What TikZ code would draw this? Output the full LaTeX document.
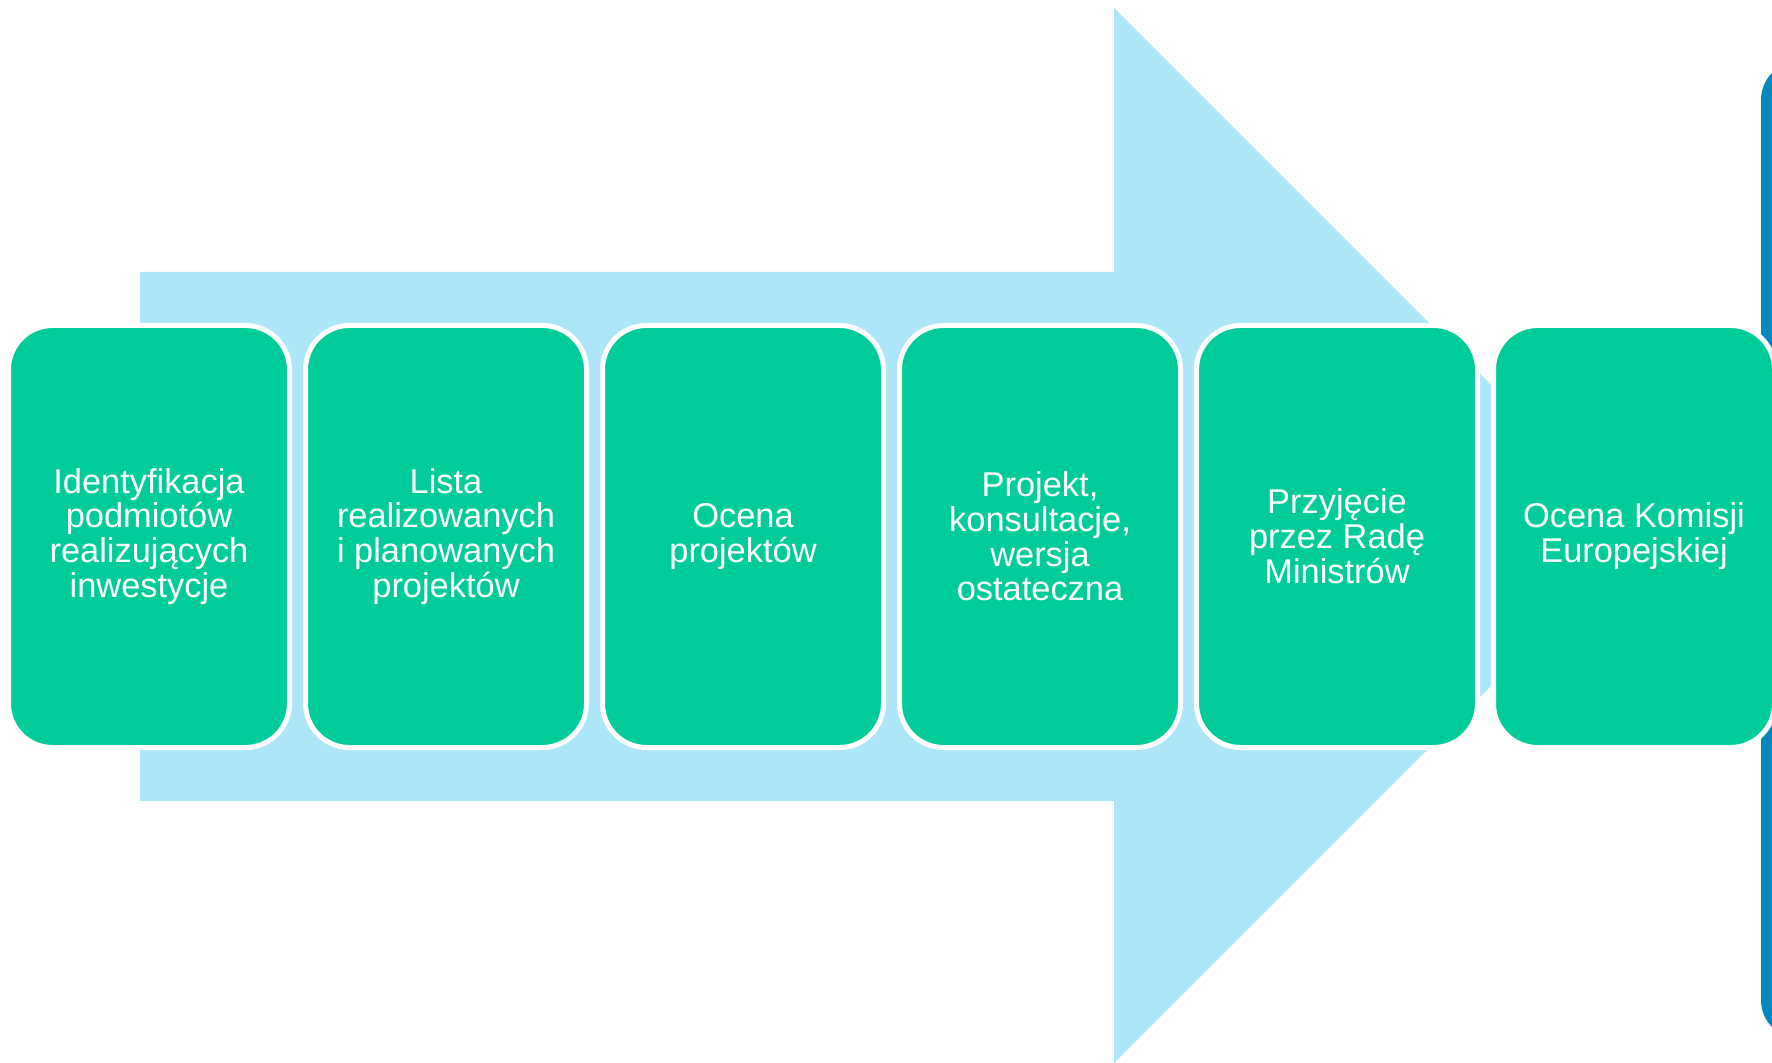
\documentclass[tikz,border=0pt]{standalone}
\usepackage{fontspec}
\setmainfont{Liberation Sans}
\definecolor{stagegreen}{HTML}{00CC99}
\definecolor{arrowblue}{HTML}{AEE6F9}
\definecolor{barblue}{HTML}{0089BE}
\begin{document}
\begin{tikzpicture}[x=0.5pt,y=-0.5pt,
    stage/.style={draw=white,line width=2.5pt,fill=stagegreen,rounded corners=22pt,
      minimum width=140.5pt,minimum height=211pt,inner sep=0pt,outer sep=0pt,
      text=white,align=center,font=\fontsize{17.2pt}{17.4pt}\selectfont}]
  \useasboundingbox (0,0) rectangle (1772,1063);
  \clip (0,0) rectangle (1772,1063);
  % big arrow behind the stages
  \fill[arrowblue] (140,272) -- (1114,272) -- (1114,8) -- (1641.5,535.5)
    -- (1114,1063) -- (1114,801) -- (140,801) -- cycle;
  \fill[barblue,rounded corners=19.5pt] (1761,61) rectangle (1900,1039);
  \draw
    (149,536.5) node[stage] (s1) {Identyfikacja\\podmiotów\\realizujących\\inwestycje}
    (446,536.5) node[stage] (s2) {Lista\\realizowanych\\i planowanych\\projektów}
    (743,536.5) node[stage] (s3) {Ocena\\projektów}
    (1040,536.5) node[stage] (s4) {Projekt,\\konsultacje,\\wersja\\ostateczna}
    (1337,536.5) node[stage] (s5) {Przyjęcie\\przez Radę\\Ministrów}
    (1634,536.5) node[stage] (s6) {Ocena Komisji\\Europejskiej};
\end{tikzpicture}
\end{document}
